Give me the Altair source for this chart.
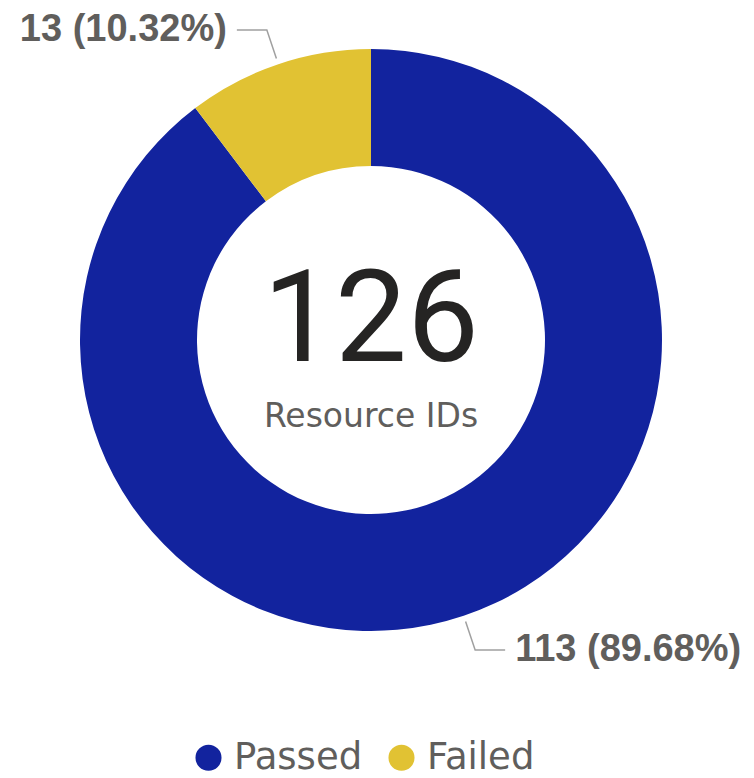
import math
import altair as alt
import pandas as pd

# ---- data ----
categories = ["Passed", "Failed"]
counts = [113, 13]
colors = ["#12239E", "#E1C233"]
center_value = "126"
center_caption = "Resource IDs"

# ---- layout constants ----
W, H = 738, 770
cx, cy = 363, 332
r_in, r_out = 174, 291
r_lead1, r_lead2 = 297, 327
hlen, lab_gap = 30, 10

total = sum(counts)
rows = []
lead_rows = []
label_rows = []
cum = 0
for i, (c, v) in enumerate(zip(categories, counts)):
    pct = v / total * 100
    mid = (cum + v / 2) / total * 2 * math.pi
    cum += v
    rows.append({"cat": c, "val": v, "ord": i})
    s, co = math.sin(mid), math.cos(mid)
    x1, y1 = cx + r_lead1 * s, cy - r_lead1 * co
    x2, y2 = cx + r_lead2 * s, cy - r_lead2 * co
    side = 1 if s >= 0 else -1
    x3 = x2 + side * hlen
    for k, (px, py) in enumerate([(x1, y1), (x2, y2), (x3, y2)]):
        lead_rows.append({"cat": c, "k": k, "px": px, "py": py})
    label_rows.append({
        "cat": c,
        "px": x3 + side * lab_gap,
        "py": y2,
        "txt": f"{v} ({pct:.2f}%)",
        "align": "left" if side > 0 else "right",
    })

df = pd.DataFrame(rows)
lead = pd.DataFrame(lead_rows)
labs = pd.DataFrame(label_rows)

xs = alt.Scale(domain=[0, W], range=[0, W])
ys = alt.Scale(domain=[0, H], range=[0, H])

color_scale = alt.Scale(domain=categories, range=colors)

donut = alt.Chart(df).mark_arc(innerRadius=r_in, outerRadius=r_out).encode(
    theta=alt.Theta("val:Q", stack=True),
    order=alt.Order("ord:Q"),
    color=alt.Color(
        "cat:N",
        scale=color_scale,
        sort=categories,
        legend=alt.Legend(
            title=None,
            orient="none",
            direction="horizontal",
            legendX=182,
            legendY=731,
            symbolType="circle",
            symbolSize=680,
            symbolStrokeWidth=0,
            labelFontSize=37,
            labelFont="DejaVu Sans",
            labelColor="#605E5C",
            labelOffset=7,
            columnPadding=20,
            symbolOpacity=1,
        ),
    ),
    x=alt.value(cx),
    y=alt.value(cy),
)

leaders = alt.Chart(lead).mark_line(color="#A0A0A0", strokeWidth=1.5).encode(
    x=alt.X("px:Q", scale=xs, axis=None),
    y=alt.Y("py:Q", scale=ys, axis=None),
    detail="cat:N",
    order="k:Q",
)

lab_left = alt.Chart(labs[labs["align"] == "left"]).mark_text(
    align="left", baseline="middle", fontSize=38, fontWeight="bold",
    font="Liberation Sans", color="#605E5C"
).encode(
    x=alt.X("px:Q", scale=xs, axis=None),
    y=alt.Y("py:Q", scale=ys, axis=None),
    text="txt:N",
)
lab_right = alt.Chart(labs[labs["align"] == "right"]).mark_text(
    align="right", baseline="middle", fontSize=38, fontWeight="bold",
    font="Liberation Sans", color="#605E5C"
).encode(
    x=alt.X("px:Q", scale=xs, axis=None),
    y=alt.Y("py:Q", scale=ys, axis=None),
    text="txt:N",
)

center = pd.DataFrame({"t": [center_value, center_caption]})
big = alt.Chart(center.iloc[[0]]).mark_text(
    fontSize=128, font="Liberation Sans Narrow, Roboto", color="#252423",
    baseline="middle", align="center"
).encode(x=alt.value(cx), y=alt.value(cy - 17), text="t:N")
small = alt.Chart(center.iloc[[1]]).mark_text(
    fontSize=33, font="DejaVu Sans", color="#605E5C",
    baseline="middle", align="center"
).encode(x=alt.value(cx), y=alt.value(cy + 77), text="t:N")

chart = alt.layer(donut, leaders, lab_left, lab_right, big, small).properties(
    width=W, height=H, autosize=alt.AutoSizeParams(type="none"), padding=0
).configure_view(stroke=None).resolve_scale(color="independent")

chart.save("out.html", embed_options={"renderer": "svg", "actions": False})
